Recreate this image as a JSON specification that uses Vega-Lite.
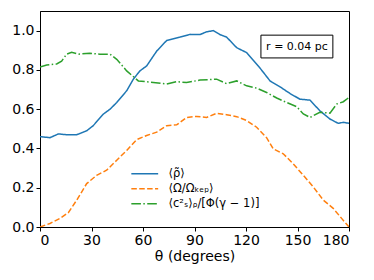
{
  "$schema": "https://vega.github.io/schema/vega-lite/v6.json",
  "width": 309,
  "height": 216,
  "autosize": {"type": "none"},
  "padding": {"left": 40, "top": 11, "right": 25, "bottom": 53},
  "config": {
    "font": "DejaVu Sans",
    "view": {"stroke": "black", "strokeWidth": 1},
    "axis": {"grid": false, "labelFontSize": 14, "titleFontSize": 14, "titleFontWeight": "normal", "labelColor": "black", "titleColor": "black", "tickColor": "black", "domainColor": "black", "tickSize": 4, "labelPadding": 2}
  },
  "datasets": {
    "curves": [
      {"theta": 0, "value": 0.46, "series": "⟨ρ̃⟩"},
      {"theta": 5.8, "value": 0.455, "series": "⟨ρ̃⟩"},
      {"theta": 10.7, "value": 0.474, "series": "⟨ρ̃⟩"},
      {"theta": 15.5, "value": 0.47, "series": "⟨ρ̃⟩"},
      {"theta": 21.4, "value": 0.47, "series": "⟨ρ̃⟩"},
      {"theta": 27.2, "value": 0.49, "series": "⟨ρ̃⟩"},
      {"theta": 31, "value": 0.516, "series": "⟨ρ̃⟩"},
      {"theta": 36.9, "value": 0.575, "series": "⟨ρ̃⟩"},
      {"theta": 40.8, "value": 0.6, "series": "⟨ρ̃⟩"},
      {"theta": 44.7, "value": 0.634, "series": "⟨ρ̃⟩"},
      {"theta": 50.5, "value": 0.694, "series": "⟨ρ̃⟩"},
      {"theta": 54.4, "value": 0.753, "series": "⟨ρ̃⟩"},
      {"theta": 58.2, "value": 0.795, "series": "⟨ρ̃⟩"},
      {"theta": 62.1, "value": 0.82, "series": "⟨ρ̃⟩"},
      {"theta": 68, "value": 0.896, "series": "⟨ρ̃⟩"},
      {"theta": 73.8, "value": 0.95, "series": "⟨ρ̃⟩"},
      {"theta": 81.5, "value": 0.967, "series": "⟨ρ̃⟩"},
      {"theta": 87.4, "value": 0.981, "series": "⟨ρ̃⟩"},
      {"theta": 93.2, "value": 0.98, "series": "⟨ρ̃⟩"},
      {"theta": 97.1, "value": 0.994, "series": "⟨ρ̃⟩"},
      {"theta": 101, "value": 1.0, "series": "⟨ρ̃⟩"},
      {"theta": 104.8, "value": 0.98, "series": "⟨ρ̃⟩"},
      {"theta": 108.7, "value": 0.967, "series": "⟨ρ̃⟩"},
      {"theta": 114.6, "value": 0.913, "series": "⟨ρ̃⟩"},
      {"theta": 120.4, "value": 0.888, "series": "⟨ρ̃⟩"},
      {"theta": 128.1, "value": 0.81, "series": "⟨ρ̃⟩"},
      {"theta": 134, "value": 0.744, "series": "⟨ρ̃⟩"},
      {"theta": 139.8, "value": 0.714, "series": "⟨ρ̃⟩"},
      {"theta": 145.6, "value": 0.68, "series": "⟨ρ̃⟩"},
      {"theta": 151.4, "value": 0.651, "series": "⟨ρ̃⟩"},
      {"theta": 157.3, "value": 0.646, "series": "⟨ρ̃⟩"},
      {"theta": 163, "value": 0.592, "series": "⟨ρ̃⟩"},
      {"theta": 168.9, "value": 0.55, "series": "⟨ρ̃⟩"},
      {"theta": 173.7, "value": 0.528, "series": "⟨ρ̃⟩"},
      {"theta": 176.7, "value": 0.533, "series": "⟨ρ̃⟩"},
      {"theta": 180, "value": 0.528, "series": "⟨ρ̃⟩"},

      {"theta": 0, "value": 0.0, "series": "⟨Ω/Ωₖₑₚ⟩"},
      {"theta": 5.8, "value": 0.018, "series": "⟨Ω/Ωₖₑₚ⟩"},
      {"theta": 11.6, "value": 0.044, "series": "⟨Ω/Ωₖₑₚ⟩"},
      {"theta": 16.5, "value": 0.073, "series": "⟨Ω/Ωₖₑₚ⟩"},
      {"theta": 21.4, "value": 0.137, "series": "⟨Ω/Ωₖₑₚ⟩"},
      {"theta": 27.2, "value": 0.221, "series": "⟨Ω/Ωₖₑₚ⟩"},
      {"theta": 33, "value": 0.263, "series": "⟨Ω/Ωₖₑₚ⟩"},
      {"theta": 38.8, "value": 0.289, "series": "⟨Ω/Ωₖₑₚ⟩"},
      {"theta": 44.7, "value": 0.34, "series": "⟨Ω/Ωₖₑₚ⟩"},
      {"theta": 50.5, "value": 0.39, "series": "⟨Ω/Ωₖₑₚ⟩"},
      {"theta": 56.3, "value": 0.445, "series": "⟨Ω/Ωₖₑₚ⟩"},
      {"theta": 62.1, "value": 0.466, "series": "⟨Ω/Ωₖₑₚ⟩"},
      {"theta": 68, "value": 0.483, "series": "⟨Ω/Ωₖₑₚ⟩"},
      {"theta": 73.8, "value": 0.516, "series": "⟨Ω/Ωₖₑₚ⟩"},
      {"theta": 79.6, "value": 0.52, "series": "⟨Ω/Ωₖₑₚ⟩"},
      {"theta": 85.4, "value": 0.558, "series": "⟨Ω/Ωₖₑₚ⟩"},
      {"theta": 91.3, "value": 0.563, "series": "⟨Ω/Ωₖₑₚ⟩"},
      {"theta": 97.1, "value": 0.558, "series": "⟨Ω/Ωₖₑₚ⟩"},
      {"theta": 102.9, "value": 0.579, "series": "⟨Ω/Ωₖₑₚ⟩"},
      {"theta": 108.7, "value": 0.572, "series": "⟨Ω/Ωₖₑₚ⟩"},
      {"theta": 114.6, "value": 0.562, "series": "⟨Ω/Ωₖₑₚ⟩"},
      {"theta": 120.4, "value": 0.542, "series": "⟨Ω/Ωₖₑₚ⟩"},
      {"theta": 126.2, "value": 0.508, "series": "⟨Ω/Ωₖₑₚ⟩"},
      {"theta": 132, "value": 0.455, "series": "⟨Ω/Ωₖₑₚ⟩"},
      {"theta": 135.9, "value": 0.398, "series": "⟨Ω/Ωₖₑₚ⟩"},
      {"theta": 141.7, "value": 0.373, "series": "⟨Ω/Ωₖₑₚ⟩"},
      {"theta": 147.5, "value": 0.322, "series": "⟨Ω/Ωₖₑₚ⟩"},
      {"theta": 153.4, "value": 0.263, "series": "⟨Ω/Ωₖₑₚ⟩"},
      {"theta": 159.2, "value": 0.204, "series": "⟨Ω/Ωₖₑₚ⟩"},
      {"theta": 165, "value": 0.137, "series": "⟨Ω/Ωₖₑₚ⟩"},
      {"theta": 170.8, "value": 0.095, "series": "⟨Ω/Ωₖₑₚ⟩"},
      {"theta": 175.7, "value": 0.044, "series": "⟨Ω/Ωₖₑₚ⟩"},
      {"theta": 180, "value": 0.0, "series": "⟨Ω/Ωₖₑₚ⟩"},

      {"theta": 0, "value": 0.815, "series": "⟨c²ₛ⟩ᵨ/[Φ(γ − 1)]"},
      {"theta": 3.9, "value": 0.825, "series": "⟨c²ₛ⟩ᵨ/[Φ(γ − 1)]"},
      {"theta": 9.7, "value": 0.83, "series": "⟨c²ₛ⟩ᵨ/[Φ(γ − 1)]"},
      {"theta": 12.6, "value": 0.845, "series": "⟨c²ₛ⟩ᵨ/[Φ(γ − 1)]"},
      {"theta": 15.5, "value": 0.88, "series": "⟨c²ₛ⟩ᵨ/[Φ(γ − 1)]"},
      {"theta": 18.4, "value": 0.89, "series": "⟨c²ₛ⟩ᵨ/[Φ(γ − 1)]"},
      {"theta": 22.3, "value": 0.88, "series": "⟨c²ₛ⟩ᵨ/[Φ(γ − 1)]"},
      {"theta": 29, "value": 0.885, "series": "⟨c²ₛ⟩ᵨ/[Φ(γ − 1)]"},
      {"theta": 34.9, "value": 0.88, "series": "⟨c²ₛ⟩ᵨ/[Φ(γ − 1)]"},
      {"theta": 40.8, "value": 0.88, "series": "⟨c²ₛ⟩ᵨ/[Φ(γ − 1)]"},
      {"theta": 44.7, "value": 0.854, "series": "⟨c²ₛ⟩ᵨ/[Φ(γ − 1)]"},
      {"theta": 50.5, "value": 0.795, "series": "⟨c²ₛ⟩ᵨ/[Φ(γ − 1)]"},
      {"theta": 57.3, "value": 0.744, "series": "⟨c²ₛ⟩ᵨ/[Φ(γ − 1)]"},
      {"theta": 66, "value": 0.736, "series": "⟨c²ₛ⟩ᵨ/[Φ(γ − 1)]"},
      {"theta": 73.8, "value": 0.728, "series": "⟨c²ₛ⟩ᵨ/[Φ(γ − 1)]"},
      {"theta": 79.6, "value": 0.74, "series": "⟨c²ₛ⟩ᵨ/[Φ(γ − 1)]"},
      {"theta": 85.4, "value": 0.736, "series": "⟨c²ₛ⟩ᵨ/[Φ(γ − 1)]"},
      {"theta": 93.2, "value": 0.748, "series": "⟨c²ₛ⟩ᵨ/[Φ(γ − 1)]"},
      {"theta": 102.9, "value": 0.753, "series": "⟨c²ₛ⟩ᵨ/[Φ(γ − 1)]"},
      {"theta": 108.7, "value": 0.73, "series": "⟨c²ₛ⟩ᵨ/[Φ(γ − 1)]"},
      {"theta": 114.6, "value": 0.744, "series": "⟨c²ₛ⟩ᵨ/[Φ(γ − 1)]"},
      {"theta": 120.4, "value": 0.719, "series": "⟨c²ₛ⟩ᵨ/[Φ(γ − 1)]"},
      {"theta": 126.2, "value": 0.707, "series": "⟨c²ₛ⟩ᵨ/[Φ(γ − 1)]"},
      {"theta": 132, "value": 0.685, "series": "⟨c²ₛ⟩ᵨ/[Φ(γ − 1)]"},
      {"theta": 137.9, "value": 0.657, "series": "⟨c²ₛ⟩ᵨ/[Φ(γ − 1)]"},
      {"theta": 143.7, "value": 0.634, "series": "⟨c²ₛ⟩ᵨ/[Φ(γ − 1)]"},
      {"theta": 149.5, "value": 0.613, "series": "⟨c²ₛ⟩ᵨ/[Φ(γ − 1)]"},
      {"theta": 153.4, "value": 0.576, "series": "⟨c²ₛ⟩ᵨ/[Φ(γ − 1)]"},
      {"theta": 157.3, "value": 0.558, "series": "⟨c²ₛ⟩ᵨ/[Φ(γ − 1)]"},
      {"theta": 163, "value": 0.584, "series": "⟨c²ₛ⟩ᵨ/[Φ(γ − 1)]"},
      {"theta": 168.9, "value": 0.58, "series": "⟨c²ₛ⟩ᵨ/[Φ(γ − 1)]"},
      {"theta": 172.8, "value": 0.626, "series": "⟨c²ₛ⟩ᵨ/[Φ(γ − 1)]"},
      {"theta": 176.7, "value": 0.638, "series": "⟨c²ₛ⟩ᵨ/[Φ(γ − 1)]"},
      {"theta": 180, "value": 0.66, "series": "⟨c²ₛ⟩ᵨ/[Φ(γ − 1)]"}
    ],
    "box": [{"x": 128.7, "x2": 170.6, "y": 0.977, "y2": 0.861, "cx": 149.7, "cy": 0.919, "label": "r = 0.04 pc"}]
  },
  "layer": [
    {
      "data": {"name": "curves"},
      "mark": {"type": "line", "strokeWidth": 1.5, "clip": true},
      "encoding": {
        "x": {"field": "theta", "type": "quantitative", "scale": {"domain": [0, 180], "nice": false}, "axis": {"values": [0, 30, 60, 90, 120, 150, 180], "title": "θ (degrees)", "titlePadding": 2}},
        "y": {"field": "value", "type": "quantitative", "scale": {"domain": [0, 1.1], "nice": false}, "axis": {"values": [0, 0.2, 0.4, 0.6, 0.8, 1.0], "format": ".1f", "title": null}},
        "color": {"field": "series", "type": "nominal", "scale": {"domain": ["⟨ρ̃⟩", "⟨Ω/Ωₖₑₚ⟩", "⟨c²ₛ⟩ᵨ/[Φ(γ − 1)]"], "range": ["#1f77b4", "#ff7f0e", "#2ca02c"]},
          "legend": {"title": null, "orient": "none", "legendX": 99, "legendY": 157, "labelFontSize": 11.5, "symbolType": "M-3,0H3", "symbolSize": 80, "symbolFillColor": "transparent", "symbolStrokeWidth": 1.5, "rowPadding": 2, "labelOffset": 18, "labelColor": "black"}},
        "strokeDash": {"field": "series", "type": "nominal", "scale": {"domain": ["⟨ρ̃⟩", "⟨Ω/Ωₖₑₚ⟩", "⟨c²ₛ⟩ᵨ/[Φ(γ − 1)]"], "range": [[1, 0], [5.5, 2.4], [9.6, 2.4, 1.5, 2.4]]}}
      }
    },
    {
      "data": {"name": "box"},
      "mark": {"type": "rect", "fill": "white", "stroke": "black", "strokeWidth": 1},
      "encoding": {
        "x": {"field": "x", "type": "quantitative"},
        "x2": {"field": "x2"},
        "y": {"field": "y", "type": "quantitative"},
        "y2": {"field": "y2"}
      }
    },
    {
      "data": {"name": "box"},
      "mark": {"type": "text", "fontSize": 11, "color": "black"},
      "encoding": {
        "x": {"field": "cx", "type": "quantitative"},
        "y": {"field": "cy", "type": "quantitative"},
        "text": {"field": "label"}
      }
    }
  ]
}
